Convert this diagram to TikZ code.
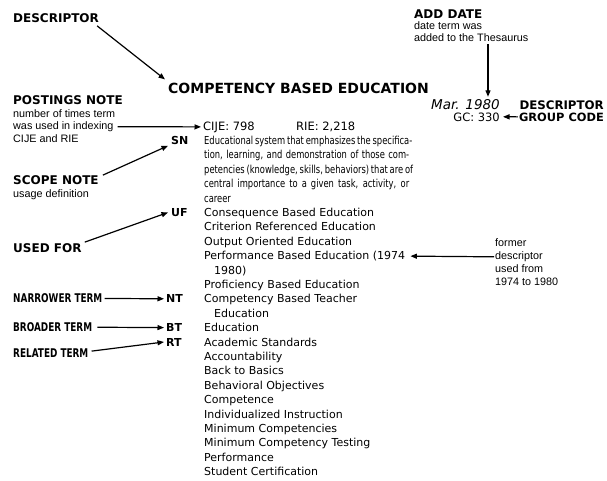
\documentclass[tikz,border=0pt]{standalone}
\usepackage{fontspec}
\setmainfont{Liberation Sans}
\newfontfamily\labfont{DejaVu Sans}
\newfontfamily\labnarrow{DejaVu Sans}[FakeStretch=0.74]
\newfontfamily\termfont{DejaVu Sans}
\newfontfamily\parfont{DejaVu Sans}[FakeStretch=0.76]
\usetikzlibrary{arrows.meta}
\newlength\pw
\setlength\pw{205pt}
\begin{document}
\begin{tikzpicture}[x=1pt,y=-1pt,
  lab/.style={font=\labfont\fontsize{12}{14}\selectfont\bfseries, inner sep=0pt, anchor=base west},
  labn/.style={font=\labnarrow\fontsize{12}{14}\selectfont\bfseries, inner sep=0pt, anchor=base west},
  sm/.style={font=\fontsize{10.8}{12}\selectfont, inner sep=0pt, anchor=base west},
  body/.style={font=\termfont\fontsize{11}{13}\selectfont, inner sep=0pt, anchor=base west},
  para/.style={font=\parfont\fontsize{11}{13}\selectfont, inner sep=0pt, anchor=base west},
  tag/.style={font=\labfont\fontsize{11}{13}\selectfont\bfseries, inner sep=0pt, anchor=base west},
  arr/.style={line width=1.2pt, -{Triangle[length=6.5pt,width=5pt]}},
]
\useasboundingbox (0,0) rectangle (607,480);
% ---- top
\node[lab] (desc) at (13,22.5) {DESCRIPTOR};
\node[font=\labfont\fontsize{14}{16}\selectfont\bfseries, inner sep=0pt, anchor=base west] (title) at (168,93) {COMPETENCY BASED EDUCATION};
\draw[arr] ([xshift=-2pt,yshift=-3pt]desc.south east) -- ([xshift=-3pt,yshift=3pt]title.north west);

\node[lab] (ad1) at (414,18) {ADD DATE};
\node[sm] (ad2) at (414,29.5) {date term was};
\node[sm] (ad3) at (414,41) {added to the Thesaurus};
\node[font=\termfont\fontsize{13.5}{15}\selectfont\itshape, inner sep=0pt, anchor=base east] (mar) at (500,109) {Mar. 1980};
\coordinate (adx) at (488,0);
\draw[arr] ([yshift=-3pt]ad3.south -| adx) -- ([yshift=2pt]mar.north -| adx);
\node[body, font=\termfont\fontsize{11.5}{13}\selectfont, anchor=base east] (gc) at (500,121) {GC: 330};
\node[lab, anchor=base east, font=\labfont\fontsize{11.8}{14}\selectfont\bfseries] (dg1) at (604,109) {DESCRIPTOR};
\node[lab, anchor=base east, font=\labfont\fontsize{11.4}{14}\selectfont\bfseries] (dg2) at (604,121) {GROUP CODE};
\draw[arr] ([xshift=-1pt]dg2.west) -- ([xshift=3pt]gc.east);

% ---- postings
\node[lab] (pn1) at (13,104.5) {POSTINGS NOTE};
\node[sm] (pn2) at (13,117) {number of times term};
\node[sm] (pn3) at (13,129.5) {was used in indexing};
\node[sm] (pn4) at (13,142) {CIJE and RIE};
\node[body, font=\termfont\fontsize{11.5}{13}\selectfont] (cije) at (203,130) {CIJE: 798};
\node[body, font=\termfont\fontsize{11.5}{13}\selectfont] (rie) at (296,130) {RIE: 2,218};
\draw[arr] ([xshift=4pt]pn3.east) -- ([xshift=-2pt]cije.west);

% ---- scope note
\node[tag] (sn) at (171,144.4) {SN};
\node[para] (p1) at (204,144.4) {\makebox[\pw][s]{Educational system that emphasizes the specifica-}};
\node[para] (p2) at (204,158.8) {\makebox[\pw][s]{tion, learning, and demonstration of those com-}};
\node[para] (p3) at (204,173.2) {\makebox[\pw][s]{petencies (knowledge, skills, behaviors) that are of}};
\node[para] (p4) at (204,187.6) {\makebox[\pw][s]{central importance to a given task, activity, or}};
\node[para] (p5) at (204,202) {career};
\node[lab] (sc1) at (13,184.5) {SCOPE NOTE};
\node[sm] (sc2) at (13,197.5) {usage definition};
\draw[arr] ([xshift=4pt,yshift=5pt]sc1.east) -- ([xshift=-3pt,yshift=-1pt]sn.south west);

% ---- used for
\node[tag] (uf) at (171,216.4) {UF};
\node[body] (u1) at (204,216.4) {Consequence Based Education};
\node[body] (u2) at (204,230.8) {Criterion Referenced Education};
\node[body] (u3) at (204,245.2) {Output Oriented Education};
\node[body] (u4) at (204,259.6) {Performance Based Education (1974};
\node[body] (u5) at (214,274) {1980)};
\node[body] (u6) at (204,288.4) {Proficiency Based Education};
\node[lab] (uflab) at (13,252.5) {USED FOR};
\draw[arr] ([xshift=3pt,yshift=6pt]uflab.east) -- ([xshift=-3pt]uf.west);

\node[sm] (fm1) at (495,246.6) {former};
\node[sm] (fm2) at (495,259.6) {descriptor};
\node[sm] (fm3) at (495,272.6) {used from};
\node[sm] (fm4) at (495,285.6) {1974 to 1980};
\draw[arr] ([xshift=-1pt]fm2.west) -- ([xshift=5pt]u4.east);

% ---- narrower / broader / related
\node[tag] (nt) at (166,302.8) {NT};
\node[body] (n1) at (204,302.8) {Competency Based Teacher};
\node[body] (n2) at (214,317.2) {Education};
\node[labn] (ntlab) at (13,302.8) {NARROWER TERM};
\draw[arr] ([xshift=2pt]ntlab.east) -- ([xshift=-2pt]nt.west);

\node[tag] (bt) at (166,331.6) {BT};
\node[body] (b1) at (204,331.6) {Education};
\node[labn] (btlab) at (13,331.6) {BROADER TERM};
\draw[arr] ([xshift=5pt]btlab.east) -- ([xshift=-2pt]bt.west);

\node[tag] (rt) at (166,346) {RT};
\node[labn] (rtlab) at (13,357.5) {RELATED TERM};
\draw[arr] ([xshift=3pt,yshift=2pt]rtlab.east) -- ([xshift=-2pt]rt.west);
\node[body] (r1) at (204,346) {Academic Standards};
\node[body] (r2) at (204,360.4) {Accountability};
\node[body] (r3) at (204,374.8) {Back to Basics};
\node[body] (r4) at (204,389.2) {Behavioral Objectives};
\node[body] (r5) at (204,403.6) {Competence};
\node[body] (r6) at (204,418) {Individualized Instruction};
\node[body] (r7) at (204,432.4) {Minimum Competencies};
\node[body] (r8) at (204,446.8) {Minimum Competency Testing};
\node[body] (r9) at (204,461.2) {Performance};
\node[body] (r10) at (204,475.6) {Student Certification};
\end{tikzpicture}
\end{document}
